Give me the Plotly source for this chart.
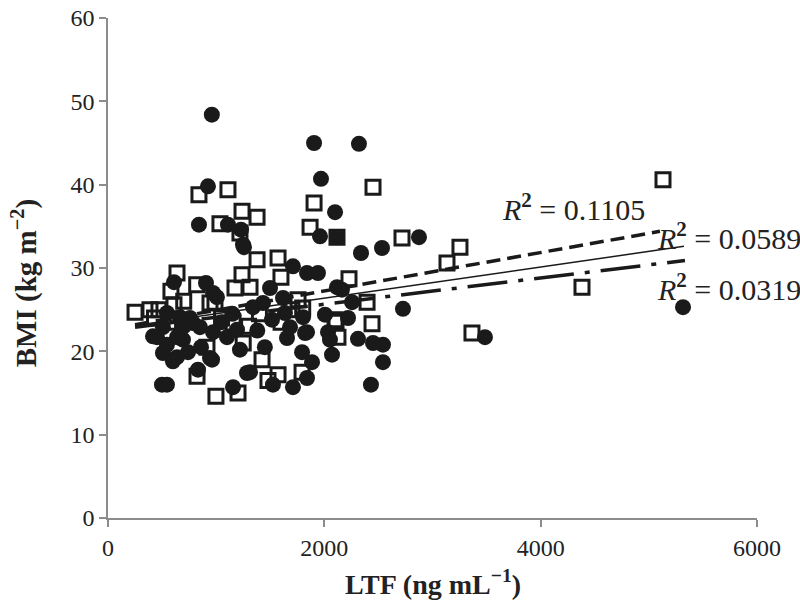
import plotly.graph_objects as go

# Filled circles series (LTF ng/mL, BMI kg/m2)
circle_x = [960, 1905, 2320, 1969, 924, 2099, 841, 1109, 1230, 1257, 1960, 2117, 2875, 2339, 2533,
            2727, 5316, 3485, 2542, 2542, 2311, 2450, 2431, 2256, 2219, 2117, 2163, 1710, 1840, 1941,
            1498, 1618, 1433, 1636, 1803, 2006, 1516, 1683, 1655, 1840, 2034, 2052, 2071, 1794, 1886,
            1840, 1525, 1710, 1313, 1248, 610, 906, 971, 1007, 545, 416, 545, 508, 638, 740,
            693, 786, 971, 962, 832, 499, 545, 1156, 1285, 1341, 1193, 1220, 1100, 508, 666,
            758, 850, 638, 943, 453, 600, 1822, 1150, 700, 860, 1050, 1380, 1450]
circle_y = [48.4, 45.0, 44.9, 40.7, 39.8, 36.7, 35.2, 35.2, 34.6, 32.5, 33.8, 33.7, 33.7, 31.8, 32.4,
            25.1, 25.3, 21.7, 20.8, 18.7, 21.5, 21.0, 16.0, 25.9, 24.0, 27.7, 27.4, 30.2, 29.4, 29.4,
            27.6, 26.4, 25.8, 24.6, 24.1, 24.4, 23.8, 22.9, 21.6, 22.3, 22.3, 21.4, 19.6, 19.9, 18.7,
            16.8, 16.0, 15.7, 17.5, 32.8, 28.3, 28.2, 27.0, 26.5, 24.6, 21.8, 20.8, 19.8, 19.3, 19.9,
            21.4, 23.4, 22.3, 19.0, 17.8, 16.0, 16.0, 15.7, 17.4, 25.3, 22.6, 20.2, 21.7, 22.9, 24.1,
            24.0, 22.9, 21.7, 19.2, 21.7, 18.8, 22.2, 24.5, 23.0, 20.5, 23.5, 22.5, 20.5]

# Open squares series
square_x = [5131, 2450, 841, 1109, 1905, 1239, 1378, 1035, 1220, 1868, 2117, 2718, 3254, 3134, 4382,
            3365, 2441, 2395, 2228, 1599, 1572, 1378, 1757, 2108, 2126, 1794, 1572, 1479, 1424, 1313,
            638, 582, 820, 989, 1239, 1174, 250, 388, 471, 610, 915, 823, 998, 1202, 943,
            1156, 2099, 1800, 700, 430, 1050, 1300, 1250, 1600, 1700, 1400, 560]
square_y = [40.6, 39.7, 38.8, 39.4, 37.8, 36.8, 36.1, 35.3, 34.2, 34.9, 33.7, 33.6, 32.5, 30.6, 27.7,
            22.2, 23.3, 25.9, 28.7, 28.9, 31.2, 31.0, 26.2, 23.5, 21.7, 17.5, 17.2, 16.5, 19.0, 27.7,
            29.4, 27.2, 28.0, 25.9, 29.2, 27.6, 24.7, 25.0, 25.0, 25.6, 20.5, 17.0, 14.6, 15.0, 25.8,
            23.4, 23.8, 25.2, 26.0, 24.0, 24.0, 23.0, 21.0, 23.5, 25.0, 24.5, 23.5]

# Trend lines (endpoints)
trend_sq_x = [250, 5103]
trend_sq_y = [23.2, 34.4]
trend_all_x = [250, 5325]
trend_all_y = [23.1, 32.6]
trend_ci_x = [250, 5334]
trend_ci_y = [22.9, 30.9]

r2_labels = ["0.1105", "0.0589", "0.0319"]
r2_x = [3624, 5057, 5057]
r2_y = [37.3, 33.8, 27.7]

x_ticks = [0, 2000, 4000, 6000]
y_ticks = [0, 10, 20, 30, 40, 50, 60]

x_title = "<b>LTF (ng mL<sup>−1</sup>)</b>"
y_title = "<b>BMI (kg m<sup>−2</sup>)</b>"

ink = "#1a1a1a"
axis_gray = "#8c8c8c"
font_family = "Liberation Serif, Times New Roman, serif"

fig = go.Figure()
fig.add_trace(go.Scatter(x=square_x, y=square_y, mode="markers",
                         marker=dict(symbol="square-open", size=14, color=ink,
                                     line=dict(width=3, color=ink)),
                         showlegend=False))
fig.add_trace(go.Scatter(x=circle_x, y=circle_y, mode="markers",
                         marker=dict(symbol="circle", size=16, color=ink,
                                     line=dict(width=0)),
                         showlegend=False))
fig.add_trace(go.Scatter(x=trend_sq_x, y=trend_sq_y, mode="lines",
                         line=dict(color=ink, width=3.5, dash="14px,7px"),
                         showlegend=False))
fig.add_trace(go.Scatter(x=trend_all_x, y=trend_all_y, mode="lines",
                         line=dict(color=ink, width=1.5),
                         showlegend=False))
fig.add_trace(go.Scatter(x=trend_ci_x, y=trend_ci_y, mode="lines",
                         line=dict(color=ink, width=3.5, dash="40px,11px,5px,11px"),
                         showlegend=False))

for lab, ax_, ay_ in zip(r2_labels, r2_x, r2_y):
    fig.add_annotation(x=ax_, y=ay_, xref="x", yref="y",
                       text="<i>R</i><sup><b>2</b></sup> = " + lab,
                       showarrow=False, xanchor="left", yanchor="middle",
                       font=dict(family=font_family, size=30, color="#222"))

# axis titles as annotations for precise placement
fig.add_annotation(x=0.5, y=-0.128, xref="paper", yref="paper", text=x_title,
                   showarrow=False, xanchor="center", yanchor="middle",
                   font=dict(family=font_family, size=28, color="#222"))
fig.add_annotation(x=-0.129, y=0.47, xref="paper", yref="paper", text=y_title,
                   showarrow=False, xanchor="center", yanchor="middle", textangle=-90,
                   font=dict(family=font_family, size=29, color="#222"))

fig.update_layout(
    width=800, height=608,
    margin=dict(l=108, r=43, t=18, b=90),
    paper_bgcolor="white", plot_bgcolor="white",
    font=dict(family=font_family, size=24, color="#222"),
)
fig.update_xaxes(range=[0, 6000], tickvals=x_ticks, showgrid=False, zeroline=False,
                 automargin=False,
                 showline=True, linecolor=axis_gray, linewidth=1.5,
                 ticks="outside", ticklen=7, tickcolor=axis_gray, tickwidth=1.5,
                 tickfont=dict(family=font_family, size=24, color="#222"))
fig.update_yaxes(range=[0, 60], tickvals=y_ticks, showgrid=False, zeroline=False,
                 automargin=False,
                 showline=True, linecolor=axis_gray, linewidth=1.5,
                 ticks="outside", ticklen=7, tickcolor=axis_gray, tickwidth=1.5,
                 tickfont=dict(family=font_family, size=24, color="#222"))

fig.write_html("out.html",
               config={"displayModeBar": False},
               post_script="document.body.style.margin='0';document.body.style.padding='0';")
